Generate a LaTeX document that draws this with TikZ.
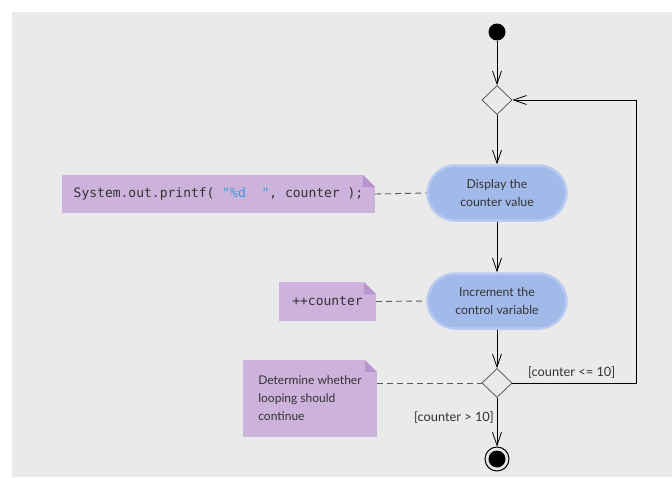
\documentclass[tikz,border=0pt]{standalone}
\usepackage{fontspec}
\setmainfont{Lato}
\newfontfamily\codefont{DejaVu Sans Mono}
\usetikzlibrary{shapes.geometric,arrows.meta}
\definecolor{bggray}{HTML}{EAEAEB}
\definecolor{notefill}{HTML}{CDB3DB}
\definecolor{notefold}{HTML}{B994CC}
\definecolor{actfill}{HTML}{A2BAEA}
\definecolor{actedge}{HTML}{B8CAF1}
\definecolor{codeblue}{HTML}{3A9AD9}
\definecolor{inkgray}{HTML}{333333}
\tikzset{
  flow/.style={-{Straight Barb[length=13pt,width=9pt]}, line width=0.8pt},
  notelink/.style={dash pattern=on 6pt off 4pt, draw=black!65, line width=0.9pt},
  action/.style={rectangle, rounded corners=28pt, fill=actfill, draw=actedge, line width=2.5pt,
    minimum width=139pt, minimum height=55pt, align=center, text=inkgray,
    font=\fontsize{12.3}{18}\selectfont},
  choice/.style={diamond, draw=black!70, line width=0.7pt, minimum width=30pt,
    minimum height=29pt, inner sep=0pt},
  start/.style={circle, fill=black, minimum size=17pt, inner sep=0pt},
  final/.style={circle, draw=black, line width=1pt, minimum size=24pt, inner sep=0pt,
    path picture={\fill[black] (path picture bounding box.center) circle (8.5pt);}},
  note/.style={rectangle, fill=notefill, inner sep=0pt, text=inkgray,
    path picture={
      \fill[bggray] ([xshift=-12pt]path picture bounding box.north east)
        -- (path picture bounding box.north east)
        -- ([yshift=-12pt]path picture bounding box.north east) -- cycle;
      \fill[notefold] ([xshift=-12pt]path picture bounding box.north east)
        -- ([yshift=-12pt]path picture bounding box.north east)
        -- ([xshift=-12pt,yshift=-12pt]path picture bounding box.north east) -- cycle;}},
  codetext/.style={font={\codefont\fontsize{13}{16}\selectfont}},
  guard/.style={text=inkgray, font=\fontsize{12.8}{14}\selectfont, inner sep=0pt}
}
\begin{document}
\begin{tikzpicture}[x=1pt,y=-1pt]
  \useasboundingbox (0,0) rectangle (672,477);
  \fill[bggray] (12,12) rectangle (672,477);
  % activity flow
  \node[start] (init) at (497,32) {};
  \node[choice] (merge) at (497,100) {};
  \node[action] (show) at (497,193) {Display the\\counter value};
  \node[action] (incr) at (497,301) {Increment the\\control variable};
  \node[choice] (test) at (497,383) {};
  \node[final] (done) at (497,459) {};
  \coordinate (loop) at (636,383);
  \draw[flow] (init) -- (merge);
  \draw[flow] (merge) -- (show);
  \draw[flow] (show) -- (incr);
  \draw[flow] (incr) -- (test);
  \draw[flow] (test) -- (done);
  \draw[flow] (test.east) -- (loop) |- (merge.east);
  % guards
  \node[guard, anchor=base west] (againlbl) at (528,376) {[counter <= 10]};
  \node[guard, anchor=base east] (exitlbl) at (494,421) {[counter > 10]};
  % notes
  \node[note, codetext, minimum width=313pt, minimum height=38pt] (printnote) at (218.5,194)
    {System.out.printf(~\textcolor{codeblue}{"\%d~~"},~counter~);};
  \node[note, codetext, minimum width=97pt, minimum height=39pt] (incrnote) at (327.5,301.5) {++counter};
  \node[note, minimum width=134pt, minimum height=77pt, align=left,
    font=\fontsize{12}{18}\selectfont] (testnote) at (310,398.5)
    {Determine whether\\looping should\\continue};
  \draw[notelink] (printnote.east) -- (show.west);
  \draw[notelink] (incrnote.east) -- (incr.west);
  \draw[notelink] (testnote.east |- test.west) -- (test.west);
\end{tikzpicture}
\end{document}
